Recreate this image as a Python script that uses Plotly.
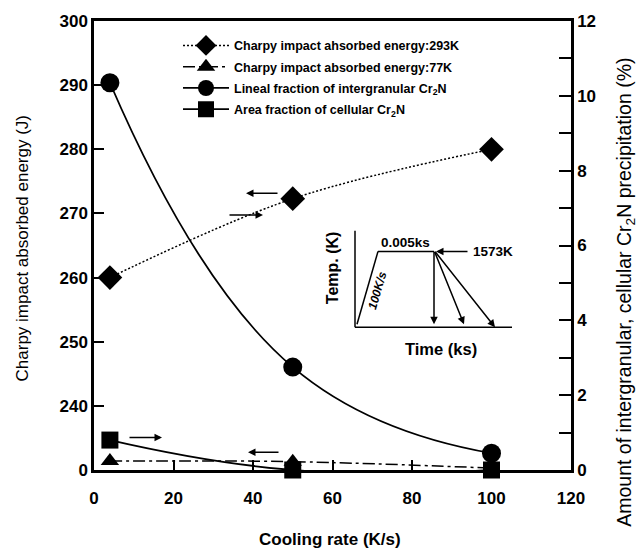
import plotly.graph_objects as go

# ---------------- data ----------------
cooling_rate = [4, 50, 100]
charpy_293k = [260.0, 272.3, 280.0]           # left axis (J)
charpy_77k_display = [231.4, 231.3, 230.3]     # left axis, broken part near "0"
lineal_fraction = [10.35, 2.75, 0.45]          # right axis (%)
area_fraction = [0.8, 0.0, 0.0]                # right axis (%)

x_ticks = [0, 20, 40, 60, 80, 100, 120]
left_tickvals = [230, 240, 250, 260, 270, 280, 290, 300]
left_ticktext = ["0", "240", "250", "260", "270", "280", "290", "300"]
right_tickvals = list(range(13))
right_ticktext = ["0", "", "2", "", "4", "", "6", "", "8", "", "10", "", "12"]

names = [
    "Charpy impact ahsorbed energy:293K",
    "Charpy impact absorbed energy:77K",
    "Lineal fraction of intergranular Cr<sub>2</sub>N",
    "Area fraction of cellular Cr<sub>2</sub>N",
]

# ---------------- layout geometry ----------------
W_FIG, H_FIG = 641, 551
L, R, T, B = 94, 571, 14, 470
PW, PH = R - L, B - T
FONT = "Liberation Sans, Arial, sans-serif"


def px(x):
    return (x - L) / PW


def py(y):
    return (B - y) / PH


fig = go.Figure()
fig.add_trace(go.Scatter(
    x=cooling_rate, y=charpy_293k, name=names[0], mode="lines+markers",
    line=dict(color="black", width=1.5, dash="2px,2px", shape="spline"),
    marker=dict(symbol="diamond", size=19, color="black"),
    yaxis="y", legendgroup="a", cliponaxis=False))
fig.add_trace(go.Scatter(
    x=cooling_rate, y=charpy_77k_display, name=names[1], mode="lines+markers",
    line=dict(color="black", width=1.5, dash="12px,4px,3px,4px", shape="spline"),
    marker=dict(symbol="triangle-up", size=16, color="black"),
    yaxis="y", legendgroup="b", cliponaxis=False))
fig.add_trace(go.Scatter(
    x=cooling_rate, y=lineal_fraction, name=names[2], mode="lines+markers",
    line=dict(color="black", width=1.8, shape="spline", smoothing=1.3),
    marker=dict(symbol="circle", size=19, color="black"),
    yaxis="y2", legendgroup="c", cliponaxis=False))
fig.add_trace(go.Scatter(
    x=cooling_rate, y=area_fraction, name=names[3], mode="lines+markers",
    line=dict(color="black", width=1.8, shape="spline", smoothing=1.3),
    marker=dict(symbol="square", size=17, color="black"),
    yaxis="y2", legendgroup="d", cliponaxis=False))

tickfont = dict(family=FONT, size=17, color="black", weight="bold")

fig.update_layout(
    width=W_FIG, height=H_FIG,
    margin=dict(l=L, r=W_FIG - R, t=T, b=H_FIG - B),
    paper_bgcolor="white", plot_bgcolor="white",
    font=dict(family=FONT, color="black"),
    showlegend=True,
    legend=dict(x=px(178), y=py(24), xanchor="left", yanchor="top",
                bgcolor="rgba(0,0,0,0)",
                font=dict(size=12.5, family=FONT, color="black", weight="bold"),
                traceorder="grouped", tracegroupgap=2, itemwidth=46),
    xaxis=dict(range=[0, 120], tickvals=x_ticks, ticks="inside", ticklen=10,
               tickwidth=1.5, tickcolor="black", showline=True, linewidth=2.5,
               linecolor="black", mirror=True, showgrid=False, zeroline=False,
               tickfont=tickfont, ticklabelstandoff=11),
    yaxis=dict(range=[230, 300], tickvals=left_tickvals, ticktext=left_ticktext,
               ticks="inside", ticklen=10, tickwidth=1.5, tickcolor="black",
               showline=True, linewidth=2.5, linecolor="black", showgrid=False,
               zeroline=False, tickfont=tickfont),
    yaxis2=dict(range=[0, 12], tickvals=right_tickvals, ticktext=right_ticktext,
                overlaying="y", side="right", ticks="inside", ticklen=12,
                tickwidth=1.5, tickcolor="black", showline=True, linewidth=2.5,
                linecolor="black", showgrid=False, zeroline=False, tickfont=tickfont),
)

ann = []
# axis titles
ann.append(dict(text="Charpy impact absorbed energy (J)", x=px(22), y=py(245),
                textangle=-90, font=dict(size=17, family=FONT)))
ann.append(dict(text="Cooling rate (K/s)", x=px(330), y=py(541),
                font=dict(size=17, family=FONT, weight="bold")))
ann.append(dict(text="Amount of intergranular, cellular Cr<sub>2</sub>N precipitation (%)",
                x=px(626), y=py(290), textangle=-90, font=dict(size=19.5, family=FONT)))


# direction arrows (which axis each series belongs to)
def arrow(hx, hy, tx, ty, head=2):
    return dict(x=px(hx), y=py(hy), ax=tx - hx, ay=ty - hy, text="",
                showarrow=True, arrowhead=head, arrowsize=1, arrowwidth=1.5,
                arrowcolor="black", standoff=0, startstandoff=0)


ann.append(arrow(246, 189, 279, 189))   # 293K -> left axis
ann.append(arrow(263, 211, 228, 211))   # lineal -> right axis
ann.append(arrow(162, 437, 128, 437))   # area -> right axis
ann.append(arrow(248, 452, 280, 452))   # 77K -> left axis

# inset: heat treatment schematic
shapes = []


def seg(x0, y0, x1, y1, w=1.5):
    shapes.append(dict(type="line", xref="paper", yref="paper",
                       x0=px(x0), y0=py(y0), x1=px(x1), y1=py(y1),
                       line=dict(color="black", width=w)))


seg(355, 227, 355, 325)
seg(355, 325, 512, 325)
seg(357, 322, 378, 248)
seg(378, 248, 434, 248)
ann.append(arrow(434, 322, 434, 248))
ann.append(arrow(464, 322, 434, 248))
ann.append(arrow(495, 325, 434, 248))
ann.append(arrow(436, 248, 469, 248))

ann.append(dict(text="Temp. (K)", x=px(332), y=py(265), textangle=-90,
                font=dict(size=16, family=FONT, weight="bold")))
ann.append(dict(text="Time (ks)", x=px(441), y=py(347),
                font=dict(size=16.5, family=FONT, weight="bold")))
ann.append(dict(text="0.005ks", x=px(405), y=py(239),
                font=dict(size=13.5, family=FONT, weight="bold")))
ann.append(dict(text="1573K", x=px(493), y=py(248),
                font=dict(size=13.5, family=FONT, weight="bold")))
ann.append(dict(text="100K/s", x=px(377), y=py(288), textangle=-74,
                font=dict(size=12, family=FONT, style="italic", weight="bold")))

for a in ann:
    a.setdefault("xref", "paper")
    a.setdefault("yref", "paper")
    a.setdefault("showarrow", False)
    a.setdefault("xanchor", "center")
    a.setdefault("yanchor", "middle")

fig.update_layout(annotations=ann, shapes=shapes)

fig.write_html("out.html")
